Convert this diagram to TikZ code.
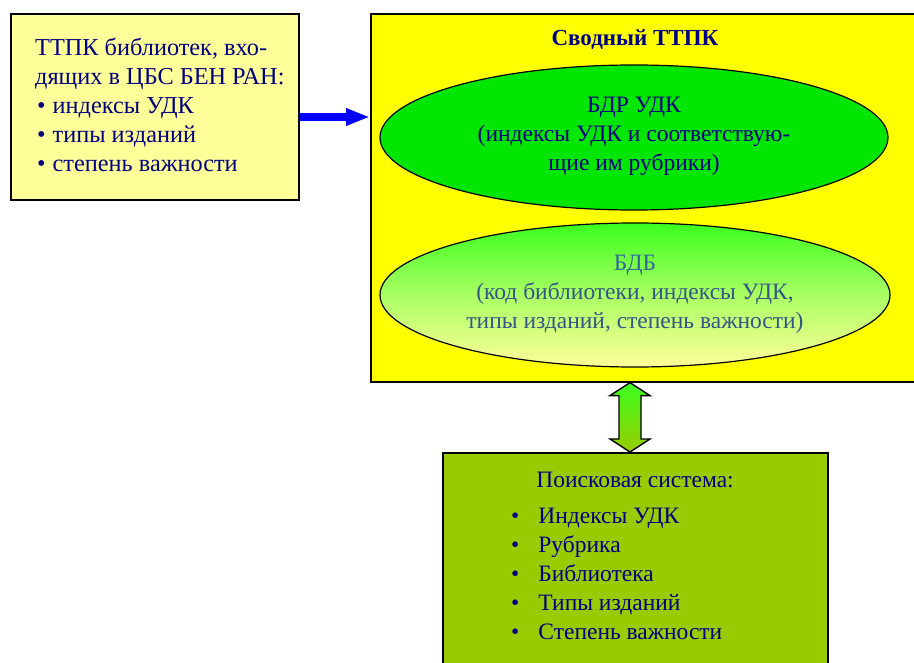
\documentclass[tikz,border=0pt]{standalone}
\usepackage{fontspec}
\setmainfont{Liberation Serif}
\usetikzlibrary{arrows.meta,shapes.geometric,calc}
\definecolor{navy}{RGB}{0,0,128}
\definecolor{paleyel}{RGB}{255,255,153}
\definecolor{pureyel}{RGB}{255,255,0}
\definecolor{brightgreen}{RGB}{0,230,0}
\definecolor{topgreen}{RGB}{60,255,30}
\definecolor{ygreen}{RGB}{153,204,0}
\definecolor{steel}{RGB}{51,85,136}
\tikzset{
  frame/.style={draw=black,line width=1.6pt,anchor=north west,inner sep=0pt},
  txt/.style={text=navy,font=\fontsize{23.5}{29}\selectfont,inner sep=0pt},
  oval/.style={ellipse,draw=black,line width=1.2pt,inner sep=0pt}
}
\begin{document}
\begin{tikzpicture}[x=1pt,y=-1pt]
\useasboundingbox (0,0) rectangle (914,663);
% shadow of the left box
\fill[gray!60] (12,15) rectangle (300,201);
\node[frame,fill=paleyel,minimum width=288pt,minimum height=186pt] (src) at (10,13) {};
\node[txt,anchor=north west,align=left,font=\fontsize{24.3}{29}\selectfont] (srctext) at (35,38)
  {ТТПК библиотек, вхо-\\дящих в ЦБС БЕН РАН:\\
   \hspace*{2pt}•\hspace*{7pt}индексы УДК\\
   \hspace*{2pt}•\hspace*{7pt}типы изданий\\
   \hspace*{2pt}•\hspace*{7pt}степень важности};
% main yellow box
\node[frame,fill=pureyel,minimum width=560pt,minimum height=368pt] (ttpk) at (370,13) {};
\node[txt,font=\fontsize{23}{29}\selectfont\bfseries] (title) at (635,40) {Сводный ТТПК};
\node[oval,fill=brightgreen,minimum width=508pt,minimum height=145pt] (bdr) at (634,137.5) {};
\node[txt,align=center] (bdrtext) at (634,136) {БДР УДК\\(индексы УДК и соответствую-\\щие им рубрики)};
\node[oval,top color=topgreen,bottom color=paleyel,middle color={rgb,255:red,170;green,255;blue,100},minimum width=510pt,minimum height=144pt] (bdb) at (635,295) {};
\node[txt,align=center,text=steel] (bdbtext) at (635,294) {{\color[RGB]{51,102,153}БДБ}\\(код библиотеки, индексы УДК,\\типы изданий, степень важности)};
% blue arrow
\draw[blue,line width=8.5pt,-{Triangle[length=24pt,width=16pt]}] (src.east |- 0,117) -- (ttpk.west |- 0,117);
% search box
\node[frame,fill=ygreen,minimum width=385pt,minimum height=240pt] (search) at (442,452) {};
\node[txt] (searchhead) at (635,480) {Поисковая система:};
\node[txt,anchor=north west,align=left] (searchlist) at (511,508)
  {•\hspace*{19pt}Индексы УДК\\
   •\hspace*{19pt}Рубрика\\
   •\hspace*{19pt}Библиотека\\
   •\hspace*{19pt}Типы изданий\\
   •\hspace*{19pt}Степень важности};
% double arrow between the main box and the search box
\coordinate (dtop) at (ttpk.south -| 630,0);
\coordinate (dbot) at (search.north -| 630,0);
\draw[line width=1.4pt,top color=topgreen,bottom color=ygreen]
  (dtop) -- ($(dtop)+(20,13)$) -- ($(dtop)+(11,13)$) -- ($(dbot)+(11,-13)$) -- ($(dbot)+(20,-13)$)
  -- (dbot) -- ($(dbot)+(-20,-13)$) -- ($(dbot)+(-11,-13)$) -- ($(dtop)+(-11,13)$) -- ($(dtop)+(-20,13)$) -- cycle;
\end{tikzpicture}
\end{document}
